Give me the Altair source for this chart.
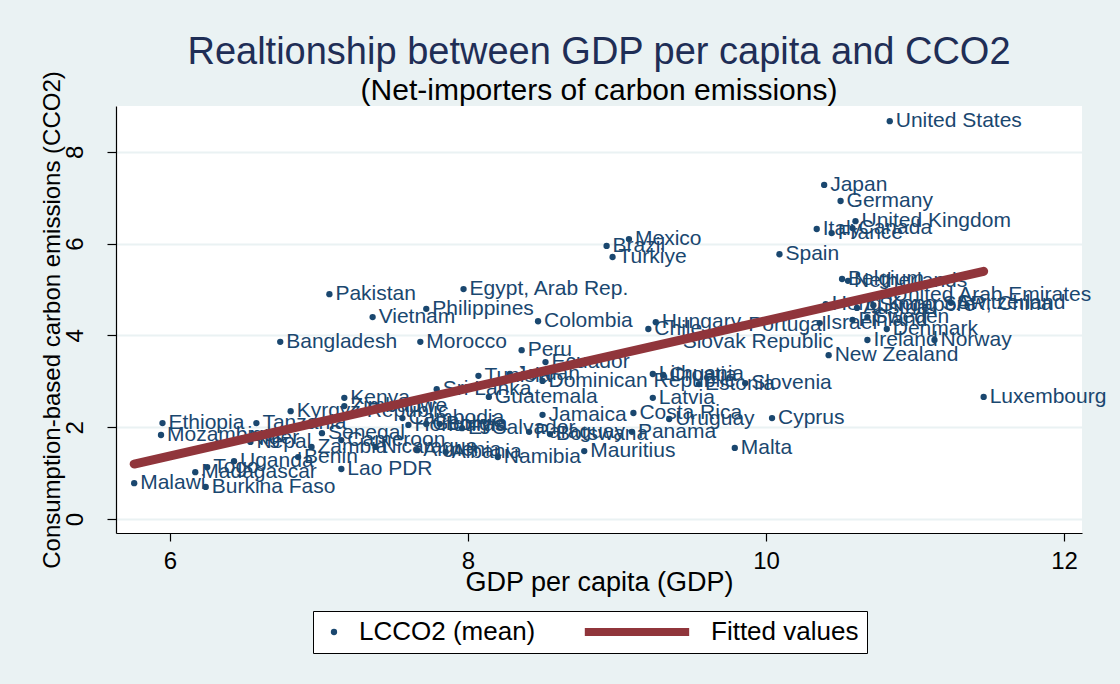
import altair as alt
import pandas as pd

# Country-level means: log GDP per capita and consumption-based CO2 (log scale)
countries = [
    "Malawi", "Burkina Faso", "Madagascar", "Togo", "Uganda", "Benin", "Lao PDR",
    "Ethiopia", "Mozambique", "Tanzania", "Niger", "Nepal", "Zambia", "Senegal",
    "Cameroon", "Nicaragua", "Armenia", "Albania", "Kyrgyz Republic", "Kenya",
    "Zimbabwe", "Cambodia", "Honduras", "Georgia", "Bolivia", "El Salvador",
    "Sri Lanka", "Guatemala", "Tunisia", "Jordan", "Dominican Republic", "Ecuador",
    "Peru", "Morocco", "Bangladesh", "Vietnam", "Philippines", "Pakistan",
    "Egypt, Arab Rep.", "Colombia", "Jamaica", "Paraguay", "Botswana", "Panama",
    "Namibia", "Mauritius", "Costa Rica", "Uruguay", "Latvia", "Lithuania",
    "Croatia", "Estonia", "Slovenia", "Cyprus", "Malta", "Hungary", "Chile",
    "Portugal", "Slovak Republic", "Israel", "New Zealand", "Ireland", "Norway",
    "Denmark", "Finland", "Sweden", "Austria", "Singapore", "Hong Kong SAR, China",
    "Switzerland", "United Arab Emirates", "Belgium", "Netherlands", "Spain",
    "Turkiye", "Brazil", "Mexico", "Italy", "France", "Canada", "United Kingdom",
    "Germany", "Japan", "United States", "Luxembourg",
]
gdp = [
    5.76, 6.24, 6.17, 6.25, 6.43, 6.86, 7.15,
    5.95, 5.94, 6.58, 6.49, 6.54, 6.95, 7.02,
    7.15, 7.38, 7.66, 7.85, 6.81, 7.17,
    7.17, 7.56, 7.60, 7.72, 7.81, 7.96,
    7.79, 8.14, 8.07, 8.28, 8.50, 8.52,
    8.36, 7.68, 6.74, 7.36, 7.72, 7.07,
    7.97, 8.47, 8.50, 8.41, 8.55, 9.10,
    8.20, 8.78, 9.11, 9.35, 9.24, 9.24,
    9.31, 9.55, 9.86, 10.04, 9.79, 9.26, 9.21,
    9.84, 9.40, 10.36, 10.42, 10.68, 11.13,
    10.81, 10.58, 10.68, 10.61, 10.72, 10.40,
    11.24, 10.81, 10.51, 10.55, 10.09,
    8.97, 8.93, 9.08, 10.34, 10.44, 10.58, 10.60,
    10.50, 10.39, 10.83, 11.46,
]
cco2 = [
    0.78, 0.70, 1.02, 1.13, 1.26, 1.35, 1.09,
    2.09, 1.83, 2.09, 1.76, 1.68, 1.57, 1.87,
    1.72, 1.57, 1.50, 1.46, 2.35, 2.64,
    2.46, 2.20, 2.05, 2.07, 2.07, 1.98,
    2.83, 2.66, 3.12, 3.16, 3.01, 3.42,
    3.68, 3.86, 3.86, 4.40, 4.58, 4.90,
    5.01, 4.31, 2.27, 1.90, 1.85, 1.90,
    1.35, 1.48, 2.31, 2.18, 2.64, 3.16,
    3.14, 2.94, 2.96, 2.20, 1.55, 4.29, 4.14,
    4.23, 3.86, 4.27, 3.57, 3.90, 3.90,
    4.14, 4.34, 4.40, 4.60, 4.66, 4.68,
    4.71, 4.88, 5.23, 5.19, 5.77,
    5.71, 5.95, 6.10, 6.32, 6.23, 6.34, 6.49,
    6.93, 7.28, 8.67, 2.66,
]

series_names = ["LCCO2 (mean)", "Fitted values"]
x_ticks = [6, 8, 10, 12]
y_ticks = [0, 2, 4, 6, 8]

NAVY = "#1A476F"
MAROON = "#90353B"
PANEL = "#EAF2F3"
FONT = "Liberation Sans"

# legend keys: a dot for the observations, a long thick bar for the fit
# (custom paths are scaled by sqrt(size)/2, so the bar reaches far to the left)
KEY_SHAPES = ["circle", "M-32,-1.25H1V1.25H-32Z"]
DOT_SIZE = 40

df = pd.DataFrame({"country": countries, "gdp": gdp, "cco2": cco2})
df["series"] = series_names[0]

x_enc = alt.X(
    "gdp:Q",
    title="GDP per capita (GDP)",
    scale=alt.Scale(domain=[5.638, 12.12], nice=False, zero=False),
    axis=alt.Axis(values=x_ticks, grid=False, tickSize=8, labelPadding=8,
                  titlePadding=-4, format="d", titleFontSize=27),
)
y_enc = alt.Y(
    "cco2:Q",
    title="Consumption-based carbon emissions (CCO2)",
    scale=alt.Scale(domain=[-0.305, 9.0], nice=False, zero=False),
    axis=alt.Axis(values=y_ticks, grid=True, gridColor=PANEL, gridWidth=2,
                  tickSize=9, labelAngle=270, labelPadding=20, titlePadding=-1,
                  format="d", titleFontSize=24),
)

legend = alt.Legend(
    orient="none", legendX=197, legendY=505, direction="horizontal",
    title=None, fillColor="white", strokeColor="black", padding=8,
    labelFontSize=26, labelFont=FONT, labelColor="black", labelLimit=400,
    columnPadding=48, labelOffset=12, symbolOpacity=1, symbolSize=DOT_SIZE,
    symbolStrokeWidth=0,
)

points = alt.Chart(df).mark_point(filled=True, opacity=1, size=DOT_SIZE).encode(
    x=x_enc,
    y=y_enc,
    color=alt.Color("series:N", scale=alt.Scale(domain=series_names, range=[NAVY, MAROON]), legend=legend),
    shape=alt.Shape("series:N", scale=alt.Scale(domain=series_names, range=KEY_SHAPES), legend=legend),
)

labels = alt.Chart(df).mark_text(
    align="left", baseline="middle", dx=6, fontSize=21, font=FONT, color=NAVY
).encode(x="gdp:Q", y="cco2:Q", text="country:N")

fit = alt.Chart(df).transform_regression("gdp", "cco2").mark_line(
    color=MAROON, strokeWidth=9, strokeCap="round"
).encode(x="gdp:Q", y="cco2:Q")

chart = alt.layer(points, labels, fit).properties(
    width=966,
    height=427,
    padding={"left": 116, "top": 106, "right": 38, "bottom": 151},
    autosize=alt.AutoSizeParams(type="none"),
    background=PANEL,
    title=alt.TitleParams(
        text="Realtionship between GDP per capita and CCO2",
        subtitle="(Net-importers of carbon emissions)",
        anchor="middle", font=FONT, fontSize=38, fontWeight="normal",
        color="#1F2E56", subtitleFont=FONT, subtitleFontSize=30,
        subtitleColor="black", subtitlePadding=4, offset=-35,
    ),
).configure_view(
    fill="white", stroke=None
).configure_axis(
    domainColor="black", domainWidth=1.2, tickColor="black", tickWidth=1.2,
    labelFont=FONT, labelFontSize=24, labelColor="black",
    titleFont=FONT, titleFontSize=26, titleFontWeight="normal", titleColor="black",
)

chart.save("out.html", embed_options={"renderer": "svg", "actions": False})
